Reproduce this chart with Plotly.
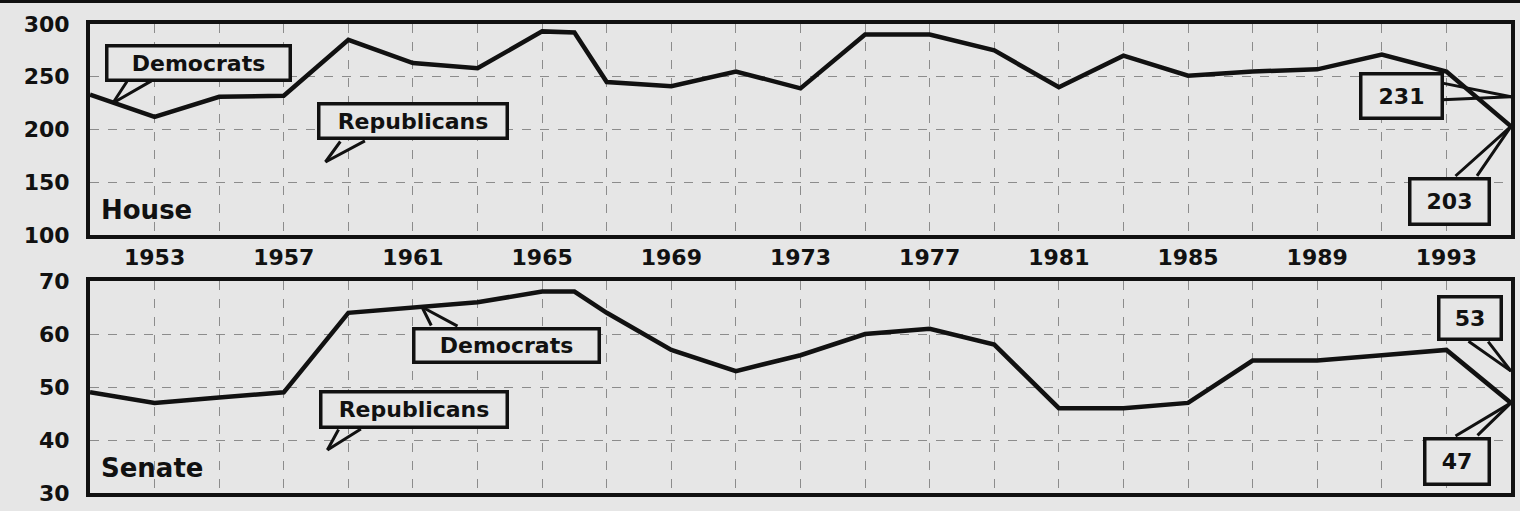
import plotly.graph_objects as go

# ---------------- data ----------------
years = [1951, 1953, 1955, 1957, 1959, 1961, 1963, 1965, 1966, 1967, 1969,
         1971, 1973, 1975, 1977, 1979, 1981, 1983, 1985, 1987, 1989, 1991,
         1993, 1995]
house_dem = [233, 212, 231, 232, 285, 263, 258, 293, 292, 245, 241,
             255, 239, 290, 290, 275, 240, 270, 251, 255, 257, 271,
             255, 203]
senate_dem = [49, 47, 48, 49, 64, 65, 66, 68, 68, 64, 57,
              53, 56, 60, 61, 58, 46, 46, 47, 55, 55, 56,
              57, 47]

final_year = 1995
house_final_values = [231, 203]      # Republicans, Democrats after 1994 election
senate_final_values = [53, 47]

year_ticks = [1953, 1957, 1961, 1965, 1969, 1973, 1977, 1981, 1985, 1989, 1993]
grid_years = list(range(1953, 1995, 2))
house_ticks = [100, 150, 200, 250, 300]
senate_ticks = [30, 40, 50, 60, 70]

# ---------------- styling ----------------
BG = "#e6e6e6"
INK = "#111111"
GRID = "#8c8c8c"
FONT = "DejaVu Sans"

fig = go.Figure()
fig.add_trace(go.Scatter(x=years, y=house_dem, mode="lines",
                         line=dict(color=INK, width=4.5),
                         xaxis="x", yaxis="y", showlegend=False,
                         name="House Democrats"))
fig.add_trace(go.Scatter(x=years, y=senate_dem, mode="lines",
                         line=dict(color=INK, width=4.5),
                         xaxis="x2", yaxis="y2", showlegend=False,
                         name="Senate Democrats"))

def xaxis_common(anchor, labels):
    return dict(
        domain=[0, 1], anchor=anchor, range=[1951, 1995],
        tickmode="array", tickvals=year_ticks,
        ticktext=[str(y) for y in year_ticks],
        showticklabels=labels, ticks="",
        tickfont=dict(family=FONT, size=22, color=INK, weight="bold"),
        ticklabelstandoff=0,
        showgrid=False,
        minor=dict(tickmode="array", tickvals=grid_years, showgrid=True,
                   gridcolor=GRID, gridwidth=1, griddash="dash", ticks=""),
        showline=True, mirror=True, linecolor=INK, linewidth=4,
        zeroline=False, fixedrange=True,
    )

def yaxis_common(anchor, domain, rng, ticks):
    return dict(
        domain=domain, anchor=anchor, range=rng,
        tickmode="array", tickvals=ticks, ticks="",
        tickfont=dict(family=FONT, size=22, color=INK, weight="bold"),
        ticklabelstandoff=12,
        showgrid=True, gridcolor=GRID, gridwidth=1, griddash="dash",
        showline=True, mirror=True, linecolor=INK, linewidth=4,
        zeroline=False, fixedrange=True,
    )

fig.update_layout(
    width=1520, height=511,
    margin=dict(l=90, r=5, t=24, b=18),
    paper_bgcolor=BG, plot_bgcolor=BG,
    xaxis=xaxis_common("y", True),
    yaxis=yaxis_common("x", [0.5501, 1.0], [100, 300], house_ticks),
    xaxis2=xaxis_common("y2", False),
    yaxis2=yaxis_common("x2", [0.0, 0.4520], [30, 70], senate_ticks),
    showlegend=False,
)

# thin black rule across the very top of the clipping
fig.add_shape(type="line", xref="paper", yref="paper",
              x0=-0.07, x1=1.01, y0=1.048, y1=1.048,
              line=dict(color=INK, width=3))

def callout(text, xref, yref, tip, box, w, h, wedge):
    # the speech-bubble box
    fig.add_annotation(
        text=text, xref=xref, yref=yref, x=box[0], y=box[1],
        showarrow=False, width=w, height=h, align="center", valign="middle",
        bgcolor=BG, bordercolor=INK, borderwidth=3.5, borderpad=2,
        font=dict(family=FONT, size=22, color=INK, weight="bold"),
    )
    # the two edges of its pointer (pixel offsets from the tip)
    for ax, ay in wedge:
        fig.add_annotation(
            text="", xref=xref, yref=yref, x=tip[0], y=tip[1],
            ax=ax, ay=ay, showarrow=True, arrowhead=0, arrowwidth=3,
            arrowcolor=INK, standoff=0, startstandoff=0,
        )

# House callouts
callout("Democrats", "x", "y", (1951.71, 225.1), (1954.35, 263.0), 176, 27,
        [(15, -23), (40, -23)])
callout("Republicans", "x", "y", (1958.29, 169.2), (1961.0, 207.6), 181, 27,
        [(16, -22), (41, -22)])
callout(str(house_final_values[0]), "x", "y",
        (final_year, house_final_values[0]), (1991.6, 231.3), 74, 37,
        [(-70, -14), (-70, 3)])
callout(str(house_final_values[1]), "x", "y",
        (final_year, house_final_values[1]), (1993.11, 132.2), 72, 38,
        [(-57, 51), (-35, 51)])

# Senate callouts
callout("Democrats", "x2", "y2", (1961.28, 65.1), (1963.89, 57.74), 178, 26,
        [(10, 20), (37, 20)])
callout("Republicans", "x2", "y2", (1958.35, 38.1), (1961.03, 45.85), 179, 28,
        [(12, -22), (35, -22)])
callout(str(senate_final_values[0]), "x2", "y2",
        (final_year, senate_final_values[0]), (1993.74, 63.1), 55, 35,
        [(-44, -31), (-24, -31)])
callout(str(senate_final_values[1]), "x2", "y2",
        (final_year, senate_final_values[1]), (1993.34, 36.0), 57, 38,
        [(-57, 34), (-35, 34)])

# Panel titles
for label, xr, yr in [("House", "x domain", "y domain"),
                      ("Senate", "x2 domain", "y2 domain")]:
    fig.add_annotation(text=label, xref=xr, yref=yr, x=0.006, y=0.04,
                       xanchor="left", yanchor="bottom", showarrow=False,
                       font=dict(family=FONT, size=26, color=INK, weight="bold"))

fig.write_html("out.html",
               config={"displayModeBar": False, "staticPlot": True},
               post_script="document.body.style.margin='0';"
                           "document.body.style.overflow='hidden';")
